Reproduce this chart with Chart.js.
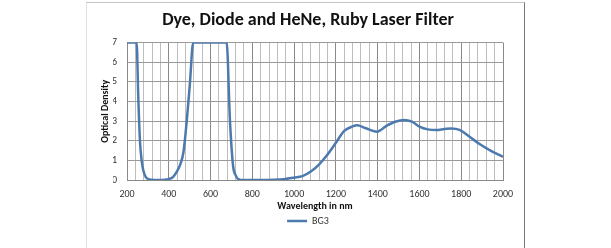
<!DOCTYPE html>
<html>
<head>
<meta charset="utf-8">
<script src="https://cdn.jsdelivr.net/npm/chart.js@4"></script>
<style>
  body { margin: 0; background: #fff; }
  #wrap { position: relative; width: 611px; height: 248px; overflow: hidden; }
  #frame {
    position: absolute; left: 86px; top: 2px; width: 439px; height: 300px;
    box-sizing: border-box; pointer-events: none;
    border-left: 1px solid #e2e2e2; border-top: 1px solid #c4c4c4; border-right: 1px solid #7a7a7a;
  }
</style>
</head>
<body>
<div id="wrap">
  <canvas id="chart" width="611" height="248"></canvas>
  <div id="frame"></div>
</div>
<script>
/* BG3 filter curve */
let wavelengths = [200, 220, 240, 246, 254, 262, 270, 278, 290, 302, 320, 340, 360, 380, 400,
  420, 440, 455, 470, 486, 501, 517, 540, 580, 620, 660, 677, 693, 708, 720, 732, 760, 800,
  850, 900, 950, 1000, 1040, 1080, 1120, 1160, 1200, 1240, 1280, 1302, 1340, 1396, 1444,
  1484, 1527, 1564, 1600, 1640, 1680, 1720, 1752, 1792, 1840, 1888, 1936, 2000]
let opticalDensity = [7, 7, 7, 7, 4.2, 2, 1.0, 0.5, 0.15, 0.05, 0.01, 0, 0, 0.01, 0.05,
  0.15, 0.45, 0.8, 1.4, 3.0, 4.9, 7, 7, 7, 7, 7, 7, 3, 0.7, 0.25, 0.05, 0, 0,
  0, 0.01, 0.04, 0.12, 0.2, 0.43, 0.8, 1.3, 1.9, 2.5, 2.73, 2.79, 2.65, 2.46, 2.77,
  2.97, 3.06, 2.97, 2.72, 2.58, 2.55, 2.6, 2.63, 2.55, 2.2, 1.83, 1.52, 1.18]
let xLabels = [200, 400, 600, 800, 1000, 1200, 1400, 1600, 1800, 2000]
let yLabels = [0, 1, 2, 3, 4, 5, 6, 7]

let font = "Carlito, Lato, sans-serif"
let blue = '#4c7aae'

let points = wavelengths.map((w, i) => ({ x: w, y: opticalDensity[i] }))

let ctx = document.getElementById("chart").getContext('2d')
new Chart(ctx, {
    type: "line",
    data: {
        datasets: [{
            label: "BG3",
            data: points,
            borderColor: blue,
            backgroundColor: blue,
            borderWidth: 2.5,
            pointRadius: 0,
            pointStyle: 'line',
            cubicInterpolationMode: 'monotone'
        }]
    },
    options: {
        responsive: false,
        animation: false,
        // left padding chosen so title/legend centre near x=308 like the original
        layout: { padding: { left: 113, right: 108, bottom: 12 } },
        plugins: {
            title: {
                display: true,
                text: "Dye, Diode and HeNe, Ruby Laser Filter",
                color: '#111',
                font: { family: font, size: 18, weight: 'bold' },
                padding: { top: 10, bottom: 11 }
            },
            legend: {
                position: 'bottom',
                labels: {
                    color: '#333',
                    font: { family: font, size: 10 },
                    usePointStyle: true,
                    pointStyleWidth: 20,
                    boxHeight: 10,
                    padding: 4
                }
            },
            tooltip: { enabled: false }
        },
        scales: {
            x: {
                type: 'linear',
                min: 200,
                max: 2000,
                afterFit: s => { s.height = 32 },
                ticks: {
                    stepSize: 40,
                    autoSkip: false,
                    maxRotation: 0,
                    padding: 8,
                    color: '#333',
                    font: { family: font, size: 10 },
                    callback: v => xLabels.includes(v) ? String(v) : ''
                },
                grid: {
                    drawTicks: false,
                    color: c => xLabels.includes(c.tick && c.tick.value) ? '#8a8a8a' : '#bdbdbd'
                },
                border: { color: '#8a8a8a' },
                title: {
                    display: true,
                    text: "Wavelength in nm",
                    color: '#111',
                    font: { family: font, size: 10, weight: 'bold' },
                    padding: { top: 2, bottom: 0 }
                }
            },
            y: {
                min: 0,
                max: 7,
                afterFit: s => { s.width = 14 },
                afterBuildTicks: s => { s.ticks = yLabels.map(v => ({ value: v })) },
                ticks: {
                    padding: 10,
                    color: '#333',
                    font: { family: font, size: 10 }
                },
                grid: { drawTicks: false, color: '#9a9a9a' },
                border: { color: '#8a8a8a' },
                title: {
                    display: true,
                    text: "Optical Density",
                    color: '#111',
                    font: { family: font, size: 10, weight: 'bold' },
                    padding: { top: -14, bottom: 0 }
                }
            }
        }
    }
})
</script>
</body>
</html>
